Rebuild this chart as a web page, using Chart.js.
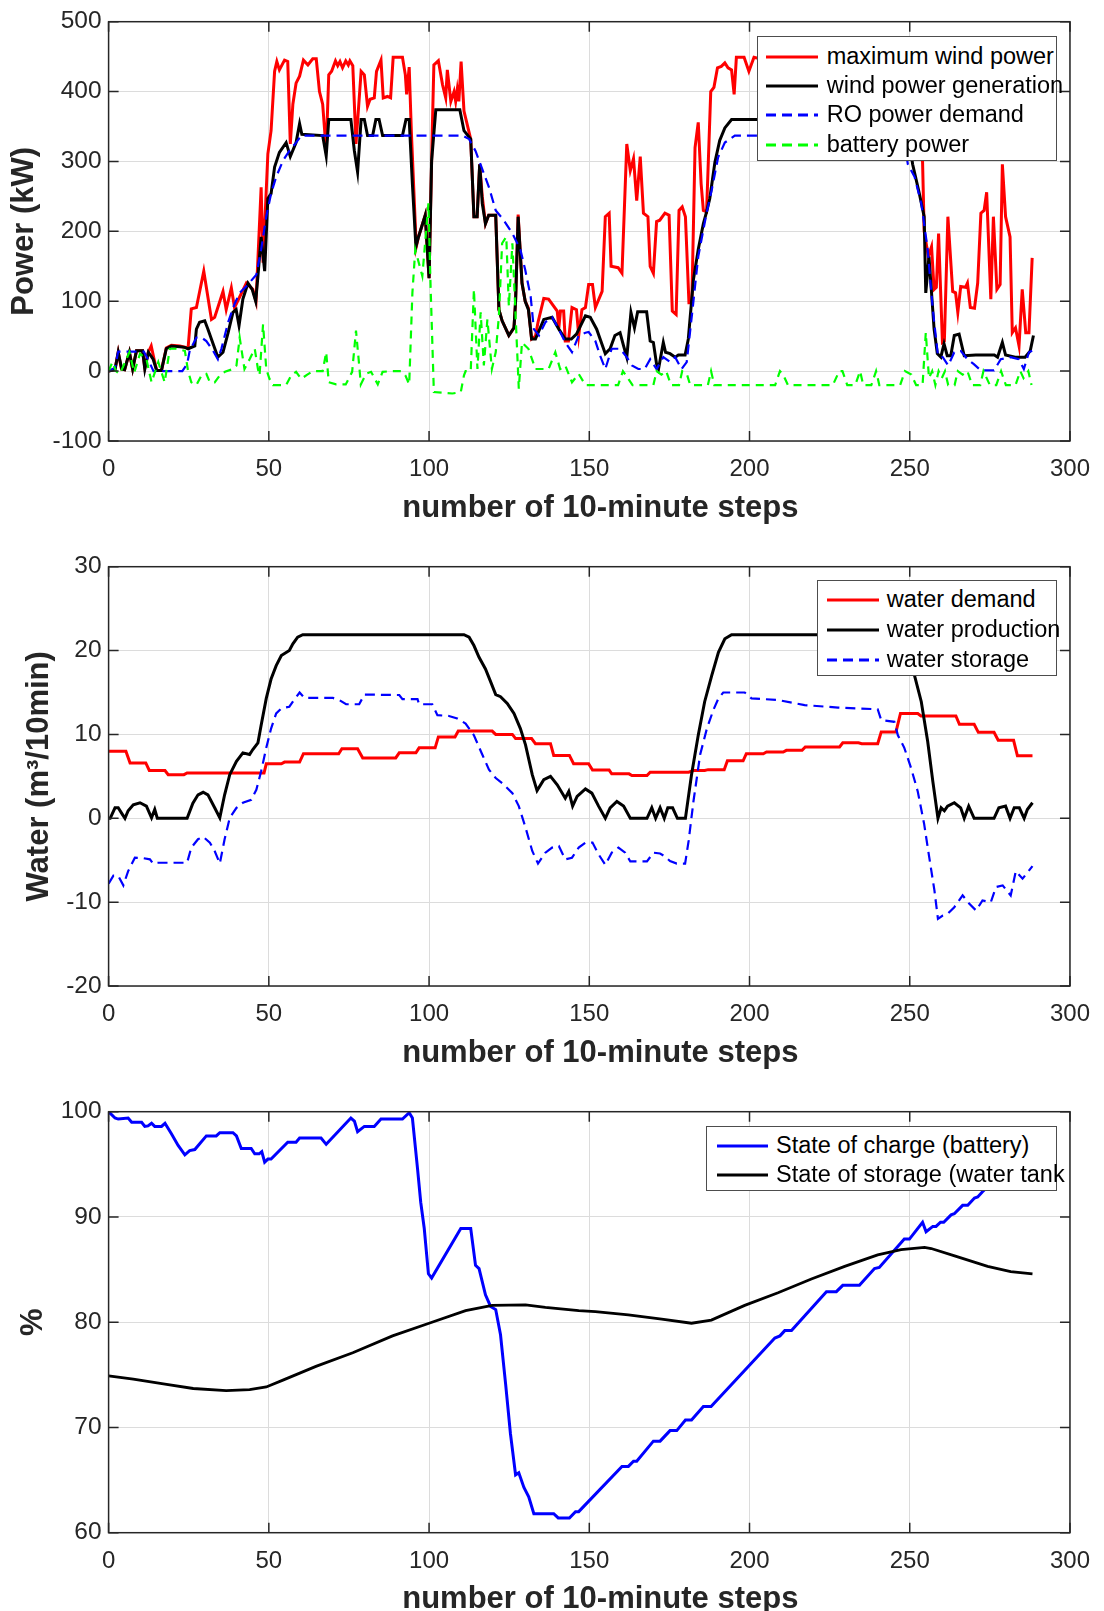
<!DOCTYPE html>
<html>
<head>
<meta charset="utf-8">
<script src="https://cdn.jsdelivr.net/npm/chart.js@4.4.1/dist/chart.umd.min.js"></script>
<style>
  html, body { margin: 0; padding: 0; background: #fff; width: 1104px; height: 1611px; overflow: hidden; }
  .panel { position: absolute; left: 0; width: 1104px; height: 545px; }
  .lg-box { position: absolute; background: #fff; border: 1px solid #4d4d4d; box-sizing: border-box; }
  .lg-text { position: absolute; white-space: nowrap; font-family: "Liberation Sans", Arial, sans-serif; font-size: 23.5px; line-height: 28px; color: #000; }
  .lg-line { position: absolute; }
</style>
</head>
<body>
<div class="panel" style="top:0px"><canvas id="powerChart" width="1104" height="545"></canvas></div>
<div class="panel" style="top:545px"><canvas id="waterChart" width="1104" height="545"></canvas></div>
<div class="panel" style="top:1090px"><canvas id="stateChart" width="1104" height="545"></canvas></div>

<script>
// ── x axis (number of 10-minute steps) ──
var xTicks = [0, 50, 100, 150, 200, 250, 300];
var xTitle = 'number of 10-minute steps';

// ── Plot 1: power (kW), pairs of [step, value] ──
var maxWindPower = [[0,0],[2,3],[3,27],[4,3],[5,2],[6.5,27],[7.5,3],[8.7,29],[10.6,29],[11.3,5],[12.4,27],[13.3,36],[14.2,17],[15,1],[16.5,1],[18,33],[19.6,37],[22.2,36],[24.8,33],[25.8,89],[27.4,91],[29.7,143],[32.1,74],[33.1,77],[35.7,114],[36.7,88],[38.3,119],[39.3,91],[43,126],[45,117],[46,100],[47.6,263],[48.2,155],[49.7,311],[50.7,344],[51.8,429],[52.5,443],[53.3,431],[54.9,445],[55.9,443],[56.7,325],[57.5,382],[58.5,412],[59.6,422],[60.8,445],[62.2,438],[63.7,447],[64.8,447],[65.8,400],[66.8,382],[67.9,315],[68.7,424],[69.6,429],[70.8,444],[71.5,437],[72.2,443],[73,434],[74,444],[74.8,438],[75.3,444],[76.2,437],[77.2,325],[78.8,429],[79.8,424],[80.8,379],[81.6,389],[82.9,391],[83.6,429],[85,445],[85.7,391],[87,393],[88,391],[88.8,449],[91.7,449],[92.6,424],[93,396],[93.8,435],[94.5,340],[96,178],[96.7,192],[98.8,223],[100,133],[101,344],[101.5,438],[102.9,444],[104.2,410],[105.2,391],[105.7,431],[106.8,386],[107.8,400],[108.3,386],[108.8,403],[109.3,386],[110,443],[110.9,372],[113,332],[114,221],[115,221],[115.8,296],[116.6,250],[117.6,211],[118.6,223],[120.8,223],[121.8,88],[122.8,72],[124.9,51],[126.5,62],[127,100],[127.8,224],[129,126],[130,100],[131,90],[132,46],[133.2,50],[134,70],[135.8,104],[137.3,103],[140,86],[140.5,62],[141,86],[142,86],[142.5,43],[143.5,43],[144.6,91],[146,88],[146.7,51],[147.7,88],[148.8,91],[149.8,124],[151,124],[151.9,91],[154,114],[155,221],[156.2,226],[156.8,150],[159,148],[160.2,140],[161.7,325],[162.8,287],[163.8,304],[164.8,244],[165.9,307],[166.9,226],[168.3,221],[169,150],[170,140],[171,214],[172,216],[173.6,226],[174.9,223],[175.9,86],[177.1,81],[178,230],[179,235],[180,221],[181.1,98],[182,98],[183,320],[184,356],[184.9,268],[185.6,230],[186.6,228],[187.9,400],[188.9,406],[190,434],[191.2,436],[192.3,441],[193.3,434],[194.4,431],[195.2,396],[195.9,449],[198.3,449],[199.8,429],[201.4,449],[205,445],[210,440],[215,448],[220,442],[225,446],[230,440],[235,445],[240,438],[245,444],[250,420],[252,330],[254,300],[254.5,200],[255.8,164],[256.8,178],[257.6,117],[258.3,120],[259,197],[260.2,41],[260.8,43],[261.9,221],[263.4,114],[264.3,112],[265,84],[265.9,121],[267.4,120],[268,126],[268.9,91],[270.2,90],[271.2,126],[272.2,226],[273.2,230],[274,256],[275.3,103],[276.1,221],[277.2,117],[278.2,124],[278.9,296],[279.9,221],[281.3,192],[282,55],[283,62],[284.1,36],[285.1,117],[286.2,55],[287.2,55],[288.2,162]];

var windGeneration = [[0,0],[2,2],[3,27],[4.1,3],[5,2],[6.5,27],[7.5,3],[8.7,29],[10.6,29],[11.3,3],[12.4,27],[13.9,17],[15,1],[16.5,1],[18,32],[19.6,36],[22.2,35],[23.8,34],[24.8,32],[26.9,36],[27.4,60],[28.4,70],[30,72],[31,60],[32.6,39],[34.1,20],[35.7,27],[37.3,55],[38.8,84],[39.8,88],[40.7,65],[41.9,103],[43.5,126],[44.8,117],[45.9,100],[46.6,136],[47.6,192],[48.7,143],[49.7,247],[50.7,254],[51.8,292],[53.3,313],[55.4,327],[56.7,307],[58.5,327],[59.6,354],[60.3,339],[66.8,337],[67.9,308],[68.7,360],[75.6,360],[76.7,315],[77.7,285],[78.8,360],[79.8,360],[80.8,337],[82.4,337],[83.4,360],[84.4,360],[85.5,337],[91.7,337],[92.8,360],[93.8,360],[94.8,268],[95.9,178],[96.7,192],[98.8,223],[100,133],[100.8,301],[102.1,374],[109.6,374],[110.9,344],[113,332],[114,221],[115,221],[115.8,296],[116.6,240],[117.6,211],[118.6,223],[120.8,223],[121.8,88],[122.8,72],[124.9,51],[126.5,62],[127,100],[127.8,221],[129,126],[130,100],[131,88],[132,46],[133.2,46],[135.8,74],[138.4,77],[140.5,60],[142.5,46],[144.4,46],[146,53],[148.8,79],[150.3,77],[152.3,60],[155,25],[156.5,32],[158,51],[159.6,55],[160.7,36],[161.7,20],[163,84],[164.1,62],[165.1,85],[167.9,85],[169,43],[170,41],[171,10],[171.6,3],[173.1,41],[173.8,27],[175.2,25],[176.8,20],[177.8,23],[179.9,23],[180.9,46],[182.5,131],[184,174],[185.6,211],[186.6,228],[187.6,247],[189.2,299],[190.7,330],[192.3,348],[194.4,360],[248,360],[249.5,340],[250.9,296],[253,254],[254.5,221],[255,112],[256,164],[257.6,60],[258.6,25],[259.7,20],[260.7,39],[261.7,22],[262.8,22],[263.9,51],[265.4,53],[267,22],[270.6,23],[276.4,23],[277.4,20],[278.9,41],[279.9,23],[282.9,20],[286,20],[287.6,29],[288.6,51]];

var roDemand = [[0,0],[2,5],[3,28],[11,28],[12.5,15],[14,0],[23,0],[24.5,10],[25.3,29],[27.4,48],[29,48],[30.5,43],[32.5,30],[34.1,17],[35.2,32],[37.3,70],[39.3,96],[40.9,112],[43.5,124],[46.1,138],[47.6,174],[49.2,221],[50.7,254],[52.3,278],[54.4,301],[56.4,315],[58.5,327],[60.1,337],[110.4,337],[112.5,332],[114.5,315],[116.6,289],[118.7,263],[120.8,230],[123.3,216],[126,197],[128.5,174],[130,145],[131.7,107],[132.7,60],[134.3,51],[136.3,70],[138.4,77],[140.5,60],[142.5,41],[144.6,27],[146.7,51],[148.8,55],[149.8,56],[151.9,43],[153.4,22],[155,3],[157,32],[159.6,32],[161.7,20],[163.3,8],[165.3,3],[167.3,3],[169,17],[171,3],[173.1,20],[175.2,13],[176.8,20],[178.8,3],[180.4,13],[182,79],[184,164],[186.6,226],[188.2,259],[190.2,306],[192.3,327],[195.4,337],[248,337],[249.4,296],[251.5,278],[253.6,240],[255.6,174],[257.2,88],[258.8,22],[260.3,20],[262,8],[263.9,27],[265.9,29],[268,17],[270,10],[272.2,1],[276.3,1],[278.4,17],[281.5,20],[284,17],[285.6,3],[287.2,27],[288.2,29]];

var batteryPower = [[0,0],[1.2,13],[2.3,0],[3.5,-4],[6.5,27],[8,-2],[9.8,25],[11.8,17],[13.4,-16],[15.5,13],[17.5,-16],[19.1,32],[21,32],[23.8,29],[24.8,0],[25.8,-16],[27.4,-20],[29,-6],[30.5,-4],[31.6,-16],[33.1,-16],[34.7,-6],[36.3,-1],[38.8,3],[39.9,8],[40.9,48],[42.4,3],[44,17],[45.6,32],[46.6,3],[47.1,-6],[48.2,67],[49.2,3],[50.2,-11],[51.3,-20],[55.4,-20],[57,-6],[58.5,-1],[60.1,-11],[62,-5],[63.7,0],[66.8,0],[67.9,27],[68.7,-16],[71,-19],[74,-19],[76,-1],[77.2,58],[78.2,8],[78.7,-19],[80.3,-4],[81.9,-1],[84,-19],[85.5,-1],[88.6,0],[91.2,0],[92.6,-6],[93.8,-19],[94.8,112],[95.7,174],[97.9,136],[99.8,240],[100.5,117],[101.5,-30],[107.3,-32],[109.9,-30],[110.9,-6],[111.4,0],[113,0],[114,117],[115.1,3],[116.1,84],[117.1,8],[118.2,74],[119.6,3],[120.8,27],[121.8,79],[122.8,183],[124.1,192],[124.9,93],[126,183],[127,80],[128,-25],[129,41],[131,32],[133.2,3],[137.3,3],[139.4,27],[140.9,3],[142.5,8],[144.6,-16],[146.7,-4],[148.8,-20],[159,-20],[160.5,0],[162,-10],[163.5,-20],[170,-20],[171,0],[172.5,-5],[174,0],[175.5,-20],[178,-20],[179,0],[180.5,-5],[181.5,-20],[187,-20],[188,0],[189,-20],[208,-20],[209.5,0],[210.5,-5],[212,-20],[226,-20],[228,0],[229,0],[230.5,-20],[233,-20],[234.5,0],[235.5,-20],[238,-20],[239.5,0],[240.5,-20],[247,-20],[248.5,0],[250.5,-5],[252,-20],[254,-20],[255,55],[256,-10],[257,0],[258,-20],[259,0],[260,-10],[261,0],[262,-20],[264,-20],[265,0],[266.5,-5],[268,0],[269.5,-20],[272,-20],[273,0],[275,-20],[277,-20],[278.5,0],[280,-20],[283,-20],[284.5,0],[285.5,-10],[287,0],[288,-20]];
var powerTicks = [-100, 0, 100, 200, 300, 400, 500];

// ── Plot 2: water (m3 per 10 min) ──
var waterDemand = [[0,8.0],[5.4,8.0],[6.7,6.6],[11.6,6.6],[12.7,5.7],[17.6,5.7],[18.6,5.2],[23.5,5.2],[24.5,5.4],[48.5,5.4],[49.2,6.5],[53.9,6.5],[54.9,6.7],[59.6,6.7],[60.8,7.7],[71.8,7.7],[72.8,8.3],[77.7,8.3],[79.3,7.2],[89.6,7.2],[90.7,7.8],[95.9,7.8],[96.9,8.4],[101.9,8.4],[102.9,9.7],[108.1,9.7],[109.1,10.4],[119.7,10.4],[120.8,10.0],[126,10.0],[127,9.5],[132,9.5],[133.2,8.9],[137.9,8.9],[138.9,7.5],[143.8,7.5],[145.1,6.5],[149.8,6.5],[151,5.75],[156.2,5.75],[157,5.3],[162.4,5.3],[163.3,5.1],[168,5.1],[169,5.5],[181,5.5],[182.5,5.7],[186,5.7],[187.1,5.8],[192.1,5.8],[193.1,6.85],[198,6.85],[199,7.7],[204.3,7.7],[205.3,7.9],[210.5,7.9],[211.5,8.1],[216.4,8.1],[217.4,8.5],[228.1,8.5],[229.1,9.0],[234,9.0],[235,8.9],[240,8.9],[241.1,10.3],[245.7,10.3],[247.1,12.5],[252.5,12.5],[253.5,12.2],[264.4,12.2],[265.5,11.2],[270.1,11.2],[271.4,10.25],[276.3,10.25],[277.6,9.3],[282.4,9.3],[283.6,7.45],[288.3,7.45]];

var waterProduction = [[0,0],[0.5,0],[2,1.25],[3,1.25],[4,0.65],[5.1,0],[6.1,0.9],[7.7,1.6],[9.8,1.85],[11.8,1.45],[13.4,0.05],[14.4,1.05],[15.2,0],[24.5,0],[26.3,1.8],[27.9,2.8],[29.5,3.1],[31,2.8],[33.1,1.25],[34.7,0.05],[36.2,2.8],[37.8,5.2],[39.9,6.8],[41.9,7.8],[44,7.6],[45,8.2],[46.6,9.0],[47.6,11.1],[49.2,14.3],[50.7,16.6],[52.3,18.2],[53.9,19.4],[56.4,20.0],[57.5,20.8],[59,21.6],[60.6,21.9],[110.9,21.9],[112.5,21.6],[114,20.6],[115.6,19.2],[117.6,17.8],[119.2,16.3],[120.8,14.75],[122.3,14.5],[124.4,13.7],[126.5,12.5],[128.5,10.7],[130.1,8.75],[132.2,5.2],[133.7,3.3],[135.8,4.6],[137.9,5.0],[140,4.0],[142.5,2.4],[143.6,3.2],[144.8,1.45],[146.2,2.6],[148.8,3.5],[150.8,3.0],[152.9,1.45],[155,0],[156.5,1.25],[158.6,2.0],[160.7,1.45],[162.8,0],[168,0],[169.5,1.25],[170.7,0],[172.1,1.25],[173.4,0],[174.5,1.25],[176,1.25],[177.5,0],[180,0],[181.9,5.2],[184,9.9],[186,13.9],[188.2,17],[190.3,19.8],[192.3,21.4],[194.4,21.9],[246,21.9],[249,20.5],[251.5,17],[253.6,13.9],[255.6,9.15],[257.2,4.4],[258.8,0],[259.8,1.25],[260.8,0.9],[261.8,1.45],[263.9,1.85],[265.9,1.25],[267,0],[268.4,1.45],[270.1,0],[276.3,0],[277.8,1.25],[279.9,1.45],[281.3,0],[282.6,1.25],[284.2,1.25],[285.7,0],[286.7,1.05],[288.3,1.85]];

var waterStorage = [[0,-7.8],[1.5,-6.85],[3,-6.85],[4.6,-8.0],[6.1,-6.3],[8.2,-4.7],[10.8,-4.75],[12.9,-4.9],[13.9,-5.4],[15.5,-5.3],[24.5,-5.3],[25.8,-3.5],[27.9,-2.5],[29.5,-2.2],[31.6,-2.9],[33.1,-3.9],[34.7,-5.4],[36.2,-2.5],[37.8,0.05],[39.9,1.25],[41.9,1.85],[44.5,2.2],[46.1,3.4],[47.6,5.6],[49.2,8.4],[50.7,10.7],[52.3,12.5],[53.9,13.1],[56.4,13.3],[57.5,13.9],[59.6,15.0],[61.1,14.35],[70,14.35],[72,14.1],[74.1,13.6],[78.2,13.6],[79.8,14.75],[90.7,14.7],[91.7,14.2],[96.4,14.2],[96.9,13.6],[101,13.6],[102.6,12.3],[106.2,12.2],[108.8,11.9],[111.4,11.3],[114,9.9],[116.6,7.6],[118.7,5.8],[120.8,4.8],[122.8,4.2],[126,3.0],[128,1.45],[130.1,-1.1],[132.2,-3.9],[134,-5.4],[136.3,-4.1],[138.4,-3.5],[140.5,-3.3],[142.5,-4.9],[144.6,-4.7],[146.7,-3.5],[148.8,-2.9],[151,-2.9],[152.9,-4.3],[155,-5.55],[157,-4.1],[159.1,-3.5],[161.2,-4.1],[162.8,-5.15],[168,-5.15],[170,-4.1],[172.1,-4.2],[173.4,-4.5],[175.2,-5.1],[177.3,-5.4],[179.9,-5.4],[181,-2.7],[182.5,2.0],[184.6,7.6],[186.7,10.7],[188.7,12.9],[190.3,14.3],[191.8,15.0],[198.5,15.0],[200.6,14.3],[208.9,14.1],[217.2,13.5],[227.6,13.2],[240,13.0],[241.1,11.7],[245.2,11.5],[246.3,9.9],[248.3,8.4],[250.4,6.0],[252.5,3.2],[254.5,-0.7],[256.1,-4.7],[257.7,-8.6],[258.8,-12.0],[260.3,-11.6],[261.8,-11.4],[263.9,-10.6],[266.5,-9.2],[268.6,-10.2],[270.7,-11.0],[272.7,-9.8],[275.3,-10.0],[276.9,-8.2],[279,-8.0],[281.5,-9.2],[283.1,-6.3],[285.2,-7.2],[288.3,-5.7]];
var waterTicks = [-20, -10, 0, 10, 20, 30];

// ── Plot 3: state of charge / storage (%) ──
var stateOfCharge = [[0,100],[2,99.4],[3,99.3],[6.1,99.4],[7.2,99.0],[10.3,99.0],[11.3,98.6],[12.3,98.65],[13.4,98.9],[14.4,98.6],[16.5,98.6],[17.6,98.9],[19.6,97.9],[21.7,96.8],[23.8,95.9],[25.3,96.3],[26.9,96.4],[30.5,97.7],[33.6,97.7],[34.7,98.0],[38.8,98.0],[39.9,97.7],[41.4,96.5],[44.5,96.5],[45.6,96.0],[47,96.0],[47.8,96.2],[48.7,95.2],[49.7,95.5],[50.7,95.5],[55.9,97.1],[58.5,97.1],[59.6,97.5],[66.3,97.5],[67.9,96.9],[75.6,99.4],[76.7,99.1],[77.7,98.1],[79.8,98.6],[82.9,98.6],[85,99.3],[91.7,99.3],[93.8,99.9],[94.8,99.4],[96.4,94.6],[97.4,91.4],[98.5,88.9],[99.8,84.6],[100.8,84.2],[109.9,88.9],[113,88.9],[114.5,85.4],[115.6,85.1],[117.6,82.6],[119.2,81.5],[120.8,81.2],[122.3,78.8],[123.9,74.1],[125.4,69.4],[127,65.5],[128,65.7],[129.6,64.3],[131.1,63.4],[132.7,61.8],[138.9,61.8],[140.3,61.4],[143.8,61.4],[145.7,62.0],[146.7,62.0],[160.2,66.3],[162.2,66.3],[163.8,66.8],[164.8,66.8],[170,68.7],[172.1,68.7],[175.2,69.7],[177.3,69.7],[180,70.7],[181.9,70.7],[185.6,72],[188,72],[207.9,78.5],[209.5,78.7],[211,79.2],[213.1,79.2],[224,82.9],[227.1,82.9],[229.1,83.5],[234.3,83.5],[239,85.1],[240.5,85.2],[248.3,87.9],[249.9,87.9],[254,89.5],[255.1,88.6],[257.2,89.1],[258.2,89.1],[259.6,89.5],[260.6,89.5],[262.9,90.2],[263.9,90.3],[266.5,91.1],[268.1,91.1],[270.2,91.8],[271.2,91.9],[272.7,92.4],[280,94.5],[288,96.5]];

var stateOfStorage = [[0,74.9],[7.7,74.6],[18.1,74.1],[26.4,73.7],[36.7,73.5],[44,73.6],[49.2,73.85],[54.4,74.5],[64.7,75.8],[76.2,77.1],[88.6,78.7],[100,79.9],[111.4,81.1],[119.7,81.6],[130.1,81.65],[136.3,81.4],[146.7,81.1],[151.9,81.0],[162.2,80.7],[172.6,80.3],[181.9,79.9],[188.1,80.2],[198.5,81.6],[208.9,82.8],[219.3,84.1],[229.7,85.3],[240,86.4],[247.3,86.9],[254.6,87.1],[256.7,87.0],[264,86.3],[274.3,85.3],[281.5,84.8],[288.3,84.6]];
var stateTicks = [60, 70, 80, 90, 100];

// ── 공통 스타일 ──
var FONT = '"Liberation Sans", Arial, sans-serif';
var TEXT_COLOR = '#262626';
var PLOT_LEFT = 108.6;
var PLOT_RIGHT = 1072.6;
var PLOT_TOP = 19;

function toPoints(pairs) {
  return pairs.map(function(p) { return { x: p[0], y: p[1] }; });
}

function line(label, pairs, color, width, dash, order) {
  return {
    label: label,
    data: toPoints(pairs),
    borderColor: color,
    borderWidth: width,
    borderDash: dash || [],
    pointRadius: 0,
    fill: false,
    tension: 0,
    order: order
  };
}

// ── MATLAB 스타일 박스 + 안쪽 눈금 + x축 제목 ──
var axesBox = {
  id: 'axesBox',
  afterDatasetsDraw: function(chart) {
    var ctx = chart.ctx;
    var a = chart.chartArea;
    var xs = chart.scales.x;
    var ys = chart.scales.y;
    ctx.save();
    ctx.strokeStyle = TEXT_COLOR;
    ctx.lineWidth = 1.5;
    ctx.beginPath();
    xs.ticks.forEach(function(t) {
      var px = xs.getPixelForValue(t.value);
      ctx.moveTo(px, a.bottom); ctx.lineTo(px, a.bottom - 10);
      ctx.moveTo(px, a.top); ctx.lineTo(px, a.top + 10);
    });
    ys.ticks.forEach(function(t) {
      var py = ys.getPixelForValue(t.value);
      ctx.moveTo(a.left, py); ctx.lineTo(a.left + 10, py);
      ctx.moveTo(a.right, py); ctx.lineTo(a.right - 10, py);
    });
    ctx.stroke();
    ctx.strokeRect(a.left, a.top, a.right - a.left, a.bottom - a.top);

    // x축 제목 (MATLAB 출력처럼 약간 오른쪽)
    ctx.fillStyle = TEXT_COLOR;
    ctx.font = 'bold 31px ' + FONT;
    ctx.textAlign = 'center';
    ctx.textBaseline = 'middle';
    ctx.fillText(xTitle, (a.left + a.right) / 2 + 11, a.bottom + 67);
    ctx.restore();
  }
};

function makeChart(id, cfg) {
  var ctx = document.getElementById(id).getContext('2d');
  return new Chart(ctx, {
    type: 'line',
    data: { datasets: cfg.datasets },
    options: {
      responsive: false,
      animation: false,
      events: [],
      layout: { padding: { top: PLOT_TOP, right: 1104 - PLOT_RIGHT, left: 0, bottom: 0 } },
      plugins: { legend: { display: false }, tooltip: { enabled: false } },
      scales: {
        x: {
          type: 'linear',
          min: 0, max: 300,
          afterBuildTicks: function(s) { s.ticks = xTicks.map(function(v) { return { value: v }; }); },
          afterFit: function(s) { s.height = 545 - cfg.areaBottom; },
          grid: { color: '#dcdcdc', lineWidth: 1, drawTicks: false },
          border: { display: false },
          ticks: { padding: 14, color: TEXT_COLOR, font: { family: FONT, size: 24 }, maxRotation: 0 }
        },
        y: {
          type: 'linear',
          min: cfg.yTicks[0], max: cfg.yTicks[cfg.yTicks.length - 1],
          afterBuildTicks: function(s) { s.ticks = cfg.yTicks.map(function(v) { return { value: v }; }); },
          afterFit: function(s) { s.width = PLOT_LEFT; },
          grid: { color: '#dcdcdc', lineWidth: 1, drawTicks: false },
          border: { display: false },
          ticks: { padding: 7, color: TEXT_COLOR, font: { family: FONT, size: 24.5 } },
          title: {
            display: true,
            text: cfg.yTitle,
            color: TEXT_COLOR,
            font: { family: FONT, size: 31, weight: 'bold' },
            padding: { top: cfg.yTitlePad, bottom: 0 }
          }
        }
      }
    },
    plugins: [axesBox]
  });
}

makeChart('powerChart', {
  areaBottom: 441, yTitlePad: 6,
  yTicks: powerTicks, yTitle: 'Power (kW)',
  datasets: [
    line('maximum wind power', maxWindPower, '#ff0000', 3, null, 4),
    line('wind power generation', windGeneration, '#000000', 3, null, 3),
    line('RO power demand', roDemand, '#0000ff', 2.2, [10, 6], 2),
    line('battery power', batteryPower, '#00ff00', 2.2, [8, 6], 1)
  ]
});

makeChart('waterChart', {
  areaBottom: 441, yTitlePad: 21,
  yTicks: waterTicks, yTitle: 'Water (m\u00b3/10min)',
  datasets: [
    line('water demand', waterDemand, '#ff0000', 3, null, 3),
    line('water production', waterProduction, '#000000', 3, null, 2),
    line('water storage', waterStorage, '#0000ff', 2.2, [10, 6], 1)
  ]
});

makeChart('stateChart', {
  areaBottom: 442.7, yTitlePad: 15,
  yTicks: stateTicks, yTitle: '%',
  datasets: [
    line('State of charge (battery)', stateOfCharge, '#0000ff', 3, null, 2),
    line('State of storage (water tank', stateOfStorage, '#000000', 2.8, null, 1)
  ]
});

// ── HTML 범례 (축 안쪽 오른쪽 위) ──
var powerLegend = [
  { label: 'maximum wind power', color: '#ff0000', dash: null },
  { label: 'wind power generation', color: '#000000', dash: null },
  { label: 'RO power demand', color: '#0000ff', dash: '10 6' },
  { label: 'battery power', color: '#00ff00', dash: '10 6' }
];
var waterLegend = [
  { label: 'water demand', color: '#ff0000', dash: null },
  { label: 'water production', color: '#000000', dash: null },
  { label: 'water storage', color: '#0000ff', dash: '10 6' }
];
var stateLegend = [
  { label: 'State of charge (battery)', color: '#0000ff', dash: null },
  { label: 'State of storage (water tank', color: '#000000', dash: null }
];

function makeLegend(items, box, rows, lineX0, lineX1, textX) {
  var b = document.createElement('div');
  b.className = 'lg-box';
  b.style.left = box.left + 'px';
  b.style.top = box.top + 'px';
  b.style.width = box.width + 'px';
  b.style.height = box.height + 'px';
  document.body.appendChild(b);

  items.forEach(function(it, i) {
    var cy = rows[i];
    var w = lineX1 - lineX0;
    var svg = document.createElementNS('http://www.w3.org/2000/svg', 'svg');
    svg.setAttribute('class', 'lg-line');
    svg.setAttribute('width', w);
    svg.setAttribute('height', 8);
    svg.style.left = lineX0 + 'px';
    svg.style.top = (cy - 4) + 'px';
    var ln = document.createElementNS('http://www.w3.org/2000/svg', 'line');
    ln.setAttribute('x1', 0); ln.setAttribute('y1', 4);
    ln.setAttribute('x2', w); ln.setAttribute('y2', 4);
    ln.setAttribute('stroke', it.color);
    ln.setAttribute('stroke-width', 3);
    if (it.dash) ln.setAttribute('stroke-dasharray', it.dash);
    svg.appendChild(ln);
    document.body.appendChild(svg);

    var t = document.createElement('div');
    t.className = 'lg-text';
    t.style.left = textX + 'px';
    t.style.top = (cy - 15) + 'px';
    t.textContent = it.label;
    document.body.appendChild(t);
  });
}

makeLegend(powerLegend, { left: 756.7, top: 35.7, width: 300.6, height: 125.3 }, [56.7, 86, 115, 145], 766, 818, 826.7);
makeLegend(waterLegend, { left: 816.7, top: 580, width: 240.6, height: 96 }, [600, 630, 660], 827, 879, 886.7);
makeLegend(stateLegend, { left: 705.7, top: 1125.7, width: 351.6, height: 65.3 }, [1146, 1175], 716.7, 768.3, 776);
</script>
</body>
</html>
